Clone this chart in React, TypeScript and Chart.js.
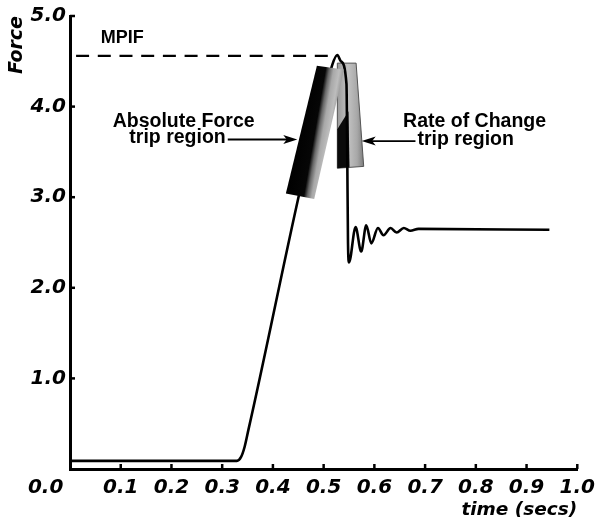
import React, { useEffect, useRef } from 'react';
import { Chart, registerables } from 'chart.js';

Chart.register(...registerables);

// ---------------- data ----------------
const timeSecs = [
  0, 0.329, 0.337, 0.344, 0.352, 0.517, 0.527, 0.534, 0.545, 0.5465,
  0.548, 0.55, 0.563, 0.574, 0.584, 0.594, 0.607, 0.618, 0.632, 0.644, 0.658,
  0.671, 0.687, 0.945,
];
const forceValues = [
  0.09, 0.09, 0.13, 0.24, 0.44, 4.46, 4.57, 4.5, 4.25, 3.5,
  2.5, 2.28, 2.67, 2.4, 2.69, 2.49, 2.66, 2.58, 2.66, 2.61, 2.66,
  2.63, 2.65, 2.64,
];
const mpifTime = [0.012, 0.527];
const mpifForce = [4.56, 4.56];

const xTickValues = [0, 0.1, 0.2, 0.3, 0.4, 0.5, 0.6, 0.7, 0.8, 0.9, 1.0];
const xTickLabels = ['0.0       ', '0.1', '0.2', '0.3', '0.4', '0.5', '0.6', '0.7', '0.8', '0.9', '1.0'];
const yTickValues = [0, 1, 2, 3, 4, 5];
const yTickLabels = ['', '1.0', '2.0', '3.0', '4.0', '5.0'];

// trip regions (corners in time / force units)
const absRegionTime = [0.4255, 0.4814, 0.54, 0.4867];
const absRegionForce = [3.04, 2.98, 4.41, 4.45];
const rateRegionTime = [0.527, 0.579, 0.564, 0.527];
const rateRegionForce = [3.32, 3.34, 4.48, 4.48];
const rateCoreTime = [0.527, 0.551, 0.549, 0.527];
const rateCoreForce = [3.32, 3.33, 3.95, 3.75];

// annotation anchors (time / force units)
const labelMPIF = { text: 'MPIF', t: 0.0607, f: 4.702 };
const labelAbs1 = { text: 'Absolute Force', t: 0.224, f: 3.775 };
const labelAbs2 = { text: 'trip region', t: 0.307, f: 3.598 };
const arrowAbs = { t0: 0.311, t1: 0.448, f: 3.637 };
const labelRate1 = { text: 'Rate of Change', t: 0.7975, f: 3.778 };
const labelRate2 = { text: 'trip region', t: 0.685, f: 3.576 };
const arrowRate = { t0: 0.681, t1: 0.575, f: 3.62 };

const AXIS_FONT = { family: '"DejaVu Sans", sans-serif', size: 20, weight: 'bold' as const, style: 'italic' as const };
const ANNOT_FONT = 'bold 19.5px "Liberation Sans", Arial, sans-serif';

function toPx(chart: any, t: number, f: number): [number, number] {
  return [chart.scales.x.getPixelForValue(t), chart.scales.y.getPixelForValue(f)];
}

function poly(ctx: CanvasRenderingContext2D, pts: [number, number][]) {
  ctx.beginPath();
  pts.forEach(([x, y], i) => (i ? ctx.lineTo(x, y) : ctx.moveTo(x, y)));
  ctx.closePath();
}

function arrow(ctx: CanvasRenderingContext2D, x0: number, x1: number, y: number) {
  const dir = Math.sign(x1 - x0);
  const headLen = 14;
  const headHalf = 4.5;
  ctx.beginPath();
  ctx.moveTo(x0, y);
  ctx.lineTo(x1 - dir * headLen * 0.6, y);
  ctx.lineWidth = 1.8;
  ctx.strokeStyle = '#000';
  ctx.stroke();
  ctx.beginPath();
  ctx.moveTo(x1, y);
  ctx.lineTo(x1 - dir * headLen, y - headHalf);
  ctx.lineTo(x1 - dir * headLen * 0.75, y);
  ctx.lineTo(x1 - dir * headLen, y + headHalf);
  ctx.closePath();
  ctx.fillStyle = '#000';
  ctx.fill();
}

const regionsPlugin = {
  id: 'tripRegions',
  beforeDatasetsDraw(chart: any) {
    const ctx: CanvasRenderingContext2D = chart.ctx;
    ctx.save();
    const pts = rateRegionTime.map((t, i) => toPx(chart, t, rateRegionForce[i]));
    const xs = pts.map((p) => p[0]);
    const g = ctx.createLinearGradient(Math.min(...xs), 0, Math.max(...xs), 0);
    g.addColorStop(0, '#9a9a9a');
    g.addColorStop(0.4, '#c2c2c2');
    g.addColorStop(0.75, '#a8a8a8');
    g.addColorStop(1, '#7c7c7c');
    poly(ctx, pts);
    ctx.fillStyle = g;
    ctx.fill();
    ctx.lineWidth = 1;
    ctx.strokeStyle = '#555';
    ctx.stroke();
    const core = rateCoreTime.map((t, i) => toPx(chart, t, rateCoreForce[i]));
    poly(ctx, core);
    ctx.fillStyle = '#0a0a0a';
    ctx.fill();
    ctx.restore();
  },
  afterDatasetsDraw(chart: any) {
    const ctx: CanvasRenderingContext2D = chart.ctx;
    ctx.save();
    // absolute force band
    const pts = absRegionTime.map((t, i) => toPx(chart, t, absRegionForce[i]));
    const d = [1, 0.172];
    const proj = pts.map((p) => p[0] * d[0] + p[1] * d[1]);
    const pmin = Math.min(...proj);
    const pmax = Math.max(...proj);
    const n2 = d[0] * d[0] + d[1] * d[1];
    const g = ctx.createLinearGradient(
      (pmin * d[0]) / n2, (pmin * d[1]) / n2,
      (pmax * d[0]) / n2, (pmax * d[1]) / n2,
    );
    g.addColorStop(0, '#000');
    g.addColorStop(0.5, '#060606');
    g.addColorStop(0.6, '#666');
    g.addColorStop(0.72, '#a8a8a8');
    g.addColorStop(0.88, '#bdbdbd');
    g.addColorStop(1, '#9a9a9a');
    poly(ctx, pts);
    ctx.fillStyle = g;
    ctx.fill();

    // texts
    ctx.fillStyle = '#000';
    ctx.textBaseline = 'alphabetic';
    ctx.font = 'bold 18px "Liberation Sans", Arial, sans-serif';
    ctx.textAlign = 'left';
    let p = toPx(chart, labelMPIF.t, labelMPIF.f);
    ctx.fillText(labelMPIF.text, p[0], p[1]);

    ctx.font = ANNOT_FONT;
    ctx.textAlign = 'center';
    p = toPx(chart, labelAbs1.t, labelAbs1.f);
    ctx.fillText(labelAbs1.text, p[0], p[1]);
    ctx.textAlign = 'right';
    p = toPx(chart, labelAbs2.t, labelAbs2.f);
    ctx.fillText(labelAbs2.text, p[0], p[1]);
    ctx.textAlign = 'center';
    p = toPx(chart, labelRate1.t, labelRate1.f);
    ctx.fillText(labelRate1.text, p[0], p[1]);
    ctx.textAlign = 'left';
    p = toPx(chart, labelRate2.t, labelRate2.f);
    ctx.fillText(labelRate2.text, p[0], p[1]);

    // arrows
    let a0 = toPx(chart, arrowAbs.t0, arrowAbs.f);
    let a1 = toPx(chart, arrowAbs.t1, arrowAbs.f);
    arrow(ctx, a0[0], a1[0], a0[1]);
    a0 = toPx(chart, arrowRate.t0, arrowRate.f);
    a1 = toPx(chart, arrowRate.t1, arrowRate.f);
    arrow(ctx, a0[0], a1[0], a0[1]);
    ctx.restore();
  },
  afterDraw(chart: any) {
    const ctx: CanvasRenderingContext2D = chart.ctx;
    const { left, bottom } = chart.chartArea;
    ctx.save();
    ctx.strokeStyle = '#000';
    ctx.lineWidth = 2.5;
    xTickValues.forEach((v) => {
      if (v === 0) return;
      const x = chart.scales.x.getPixelForValue(v);
      ctx.beginPath();
      ctx.moveTo(x, bottom);
      ctx.lineTo(x, bottom - 5);
      ctx.stroke();
    });
    yTickValues.forEach((v) => {
      if (v === 0) return;
      const y = chart.scales.y.getPixelForValue(v);
      ctx.beginPath();
      ctx.moveTo(left, y);
      ctx.lineTo(left + 5, y);
      ctx.stroke();
    });
    ctx.restore();
  },
};

export default function App() {
  const canvasRef = useRef<HTMLCanvasElement | null>(null);

  useEffect(() => {
    if (!canvasRef.current) return;
    const signal = timeSecs.map((t, i) => ({ x: t, y: forceValues[i] }));
    const mpif = mpifTime.map((t, i) => ({ x: t, y: mpifForce[i] }));
    const chart = new Chart(canvasRef.current, {
      type: 'line',
      data: {
        datasets: [
          {
            label: 'MPIF',
            data: mpif,
            borderColor: '#000',
            borderWidth: 2.2,
            borderDash: [13, 8.7],
            pointRadius: 0,
            fill: false,
          },
          {
            label: 'Force',
            data: signal,
            borderColor: '#000',
            borderWidth: 2.6,
            pointRadius: 0,
            fill: false,
            cubicInterpolationMode: 'monotone',
          },
        ],
      },
      options: {
        animation: false,
        responsive: true,
        maintainAspectRatio: false,
        layout: { padding: { top: 16, right: 22, bottom: 0, left: 0 } },
        plugins: { legend: { display: false }, tooltip: { enabled: false } },
        scales: {
          x: {
            type: 'linear',
            min: 0,
            max: 1,
            afterFit: (s: any) => {
              s.height = 50;
            },
            afterBuildTicks: (s: any) => {
              s.ticks = xTickValues.map((v) => ({ value: v }));
            },
            ticks: {
              autoSkip: false,
              maxRotation: 0,
              padding: 7,
              color: '#000',
              font: AXIS_FONT,
              callback: (_v: any, i: number) => xTickLabels[i],
            },
            grid: { display: false, drawTicks: false },
            border: { display: true, color: '#000', width: 3 },
            title: {
              display: true,
              text: 'time (secs)',
              align: 'end',
              color: '#000',
              font: { ...AXIS_FONT, size: 18.5, lineHeight: 1 },
              padding: { top: 0, bottom: 0 },
            },
          },
          y: {
            type: 'linear',
            min: 0,
            max: 5,
            afterFit: (s: any) => {
              s.width = 70;
            },
            afterBuildTicks: (s: any) => {
              s.ticks = yTickValues.map((v) => ({ value: v }));
            },
            ticks: {
              padding: 4,
              color: '#000',
              font: AXIS_FONT,
              callback: (_v: any, i: number) => yTickLabels[i],
            },
            grid: { display: false, drawTicks: false },
            border: { display: true, color: '#000', width: 3 },
            title: {
              display: true,
              text: 'Force',
              align: 'end',
              color: '#000',
              font: { ...AXIS_FONT, size: 19 },
              padding: { top: 6, bottom: 0 },
            },
          },
        },
      },
      plugins: [regionsPlugin],
    });
    return () => chart.destroy();
  }, []);

  return (
    <div style={{ position: 'fixed', left: 0, top: 0, width: 602, height: 519, background: '#fff' }}>
      <canvas ref={canvasRef} />
    </div>
  );
}
